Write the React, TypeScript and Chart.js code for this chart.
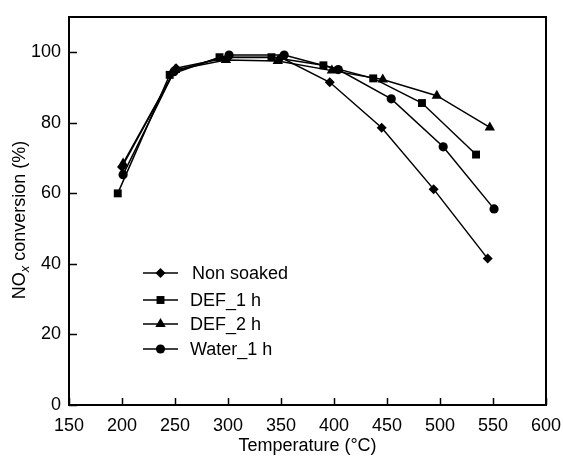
import React, { useEffect, useRef } from "react";
import { Chart, registerables } from "chart.js";

Chart.register(...registerables);

const seriesNames = ["Non soaked", "DEF_1 h", "DEF_2 h", "Water_1 h"];
const pointStyles = ["rectRot", "rect", "triangle", "circle"];
const pointRadii = [5, 5.6, 6, 4.6];

const tempNonSoaked = [200, 251, 300, 350, 396, 445, 494, 545];
const convNonSoaked = [67.5, 95.5, 98.5, 98.5, 91.5, 78.6, 61.2, 41.5];

const tempDef1 = [196, 245, 292, 341, 390, 437, 483, 534];
const convDef1 = [60, 93.6, 98.6, 98.6, 96.3, 92.6, 85.6, 71];

const tempDef2 = [201, 250, 298, 347, 398, 446, 497, 547];
const convDef2 = [68.5, 95, 97.8, 97.5, 94.8, 92.3, 87.7, 78.7];

const tempWater = [201, 249, 301, 353, 404, 454, 503, 551];
const convWater = [65.3, 94.5, 99.2, 99.2, 95.1, 86.8, 73.2, 55.6];

const xTicks = [150, 200, 250, 300, 350, 400, 450, 500, 550, 600];
const yTicks = [0, 20, 40, 60, 80, 100];

const xTitle = "Temperature (°C)";
const yTitleMain = "NO";
const yTitleSub = "x";
const yTitleRest = " conversion (%)";

const FONT = "'Liberation Sans', Arial, sans-serif";

function drawShape(ctx: CanvasRenderingContext2D, style: string, x: number, y: number, r: number) {
  ctx.beginPath();
  if (style === "circle") {
    ctx.arc(x, y, r, 0, Math.PI * 2);
  } else if (style === "rect") {
    const s = Math.SQRT1_2 * r;
    ctx.rect(x - s, y - s, 2 * s, 2 * s);
  } else if (style === "rectRot") {
    ctx.moveTo(x, y - r);
    ctx.lineTo(x + r, y);
    ctx.lineTo(x, y + r);
    ctx.lineTo(x - r, y);
    ctx.closePath();
  } else if (style === "triangle") {
    const rad = -Math.PI / 2;
    ctx.moveTo(x + Math.cos(rad) * r, y + Math.sin(rad) * r);
    const r2 = rad + (2 * Math.PI) / 3;
    ctx.lineTo(x + Math.cos(r2) * r, y + Math.sin(r2) * r);
    const r3 = r2 + (2 * Math.PI) / 3;
    ctx.lineTo(x + Math.cos(r3) * r, y + Math.sin(r3) * r);
    ctx.closePath();
  }
  ctx.fill();
}

const framePlugin = {
  id: "framePlugin",
  afterDraw(chart: any) {
    const ctx = chart.ctx as CanvasRenderingContext2D;
    const { left, right, top, bottom } = chart.chartArea;
    const xs = chart.scales.x;
    const ys = chart.scales.y;
    ctx.save();
    ctx.strokeStyle = "#000";
    ctx.lineWidth = 2;
    ctx.strokeRect(left, top, right - left, bottom - top);
    ctx.beginPath();
    for (const v of xTicks) {
      const px = Math.round(xs.getPixelForValue(v)) + 0.5;
      ctx.moveTo(px, bottom);
      ctx.lineTo(px, bottom - 7);
    }
    for (const v of yTicks) {
      const py = Math.round(ys.getPixelForValue(v)) + 0.5;
      ctx.moveTo(left, py);
      ctx.lineTo(left + 8, py);
    }
    ctx.lineWidth = 1.5;
    ctx.stroke();

    // x title
    ctx.fillStyle = "#000";
    ctx.font = `18px ${FONT}`;
    ctx.textAlign = "center";
    ctx.textBaseline = "middle";
    ctx.fillText(xTitle, (left + right) / 2, 446);

    // y title with subscript
    ctx.save();
    ctx.translate(20, (top + bottom) / 2 + 9);
    ctx.rotate(-Math.PI / 2);
    ctx.textBaseline = "middle";
    ctx.textAlign = "left";
    const fMain = `18px ${FONT}`;
    const fSub = `italic 13px ${FONT}`;
    ctx.font = fMain;
    const w1 = ctx.measureText(yTitleMain).width;
    const w3 = ctx.measureText(yTitleRest).width;
    ctx.font = fSub;
    const w2 = ctx.measureText(yTitleSub).width;
    const total = w1 + w2 + w3;
    let cx = -total / 2;
    ctx.font = fMain;
    ctx.fillText(yTitleMain, cx, 0);
    cx += w1;
    ctx.font = fSub;
    ctx.fillText(yTitleSub, cx, 5);
    cx += w2;
    ctx.font = fMain;
    ctx.fillText(yTitleRest, cx, 0);
    ctx.restore();

    // legend
    const rowsY = [273, 300, 324, 349];
    ctx.font = `18px ${FONT}`;
    ctx.textAlign = "left";
    ctx.textBaseline = "middle";
    chart.data.datasets.forEach((ds: any, i: number) => {
      const y = rowsY[i];
      ctx.beginPath();
      ctx.moveTo(143, y);
      ctx.lineTo(178, y);
      ctx.lineWidth = 1.5;
      ctx.strokeStyle = "#000";
      ctx.stroke();
      ctx.fillStyle = "#000";
      drawShape(ctx, pointStyles[i], 160.5, y, pointRadii[i]);
      ctx.fillText(ds.label, i === 0 ? 192 : 190, y + 1);
    });
    ctx.restore();
  },
};

export default function App() {
  const ref = useRef<HTMLCanvasElement | null>(null);
  useEffect(() => {
    document.body.style.margin = "0";
    const temps = [tempNonSoaked, tempDef1, tempDef2, tempWater];
    const vals = [convNonSoaked, convDef1, convDef2, convWater];
    const chart = new Chart(ref.current as HTMLCanvasElement, {
      type: "line",
      data: {
        datasets: seriesNames.map((name, i) => ({
          label: name,
          data: temps[i].map((t, j) => ({ x: t, y: vals[i][j] })),
          borderColor: "#000",
          backgroundColor: "#000",
          borderWidth: 1.5,
          pointStyle: pointStyles[i] as any,
          pointRadius: pointRadii[i],
          pointBackgroundColor: "#000",
          pointBorderColor: "#000",
          pointBorderWidth: 0,
          tension: 0,
          fill: false,
        })),
      },
      plugins: [framePlugin],
      options: {
        animation: false,
        responsive: false,
        devicePixelRatio: 1,
        layout: { padding: { top: 17, right: 17, left: 0, bottom: 0 } },
        plugins: { legend: { display: false }, tooltip: { enabled: false } },
        scales: {
          x: {
            type: "linear",
            min: 150,
            max: 600,
            afterBuildTicks: (s: any) => {
              s.ticks = xTicks.map((v) => ({ value: v }));
            },
            afterFit: (s: any) => {
              s.height = 54;
              s.paddingLeft = 0;
              s.paddingRight = 0;
            },
            grid: { display: false, drawTicks: false, tickLength: 0 },
            border: { display: false },
            ticks: {
              color: "#000",
              font: { family: FONT, size: 18 },
              padding: 10,
              maxRotation: 0,
              autoSkip: false,
            },
          },
          y: {
            type: "linear",
            min: 0,
            max: 110,
            afterBuildTicks: (s: any) => {
              s.ticks = yTicks.map((v) => ({ value: v }));
            },
            afterFit: (s: any) => {
              s.width = 69;
              s.paddingTop = 0;
              s.paddingBottom = 0;
            },
            grid: { display: false, drawTicks: false, tickLength: 0 },
            border: { display: false },
            ticks: {
              color: "#000",
              font: { family: FONT, size: 18 },
              padding: 8,
            },
          },
        },
      },
    });
    return () => chart.destroy();
  }, []);
  return <canvas ref={ref} width={563} height={459} style={{ display: "block" }} />;
}
